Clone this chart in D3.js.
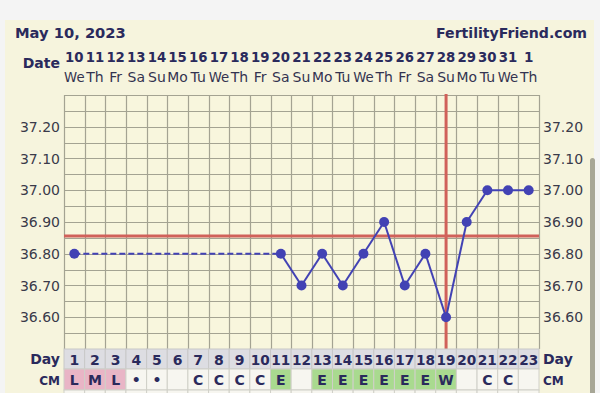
<!DOCTYPE html>
<html><head><meta charset="utf-8">
<script src="https://cdn.jsdelivr.net/npm/d3@7/dist/d3.min.js"></script>
<style>html,body{margin:0;padding:0;background:#f3f3f3;}svg{display:block;}</style>
</head><body>
<svg id="c" width="600" height="393"></svg>
<script>
const title = "May 10, 2023";
const site = "FertilityFriend.com";
const dates = ["10","11","12","13","14","15","16","17","18","19","20","21","22","23","24","25","26","27","28","29","30","31","1"];
const weekdays = ["We","Th","Fr","Sa","Su","Mo","Tu","We","Th","Fr","Sa","Su","Mo","Tu","We","Th","Fr","Sa","Su","Mo","Tu","We","Th"];
const days = d3.range(1, 24);
const temps = [36.80,null,null,null,null,null,null,null,null,null,36.80,36.70,36.80,36.70,36.80,36.90,36.70,36.80,36.60,36.90,37.00,37.00,37.00];
const cm = ["L","M","L","•","•","","C","C","C","C","E","","E","E","E","E","E","E","W","","C","C",""];
const yTicks = [36.60,36.70,36.80,36.90,37.00,37.10,37.20];
const coverline = 36.856;
const ovulationDay = 19;

const svg = d3.select("#c");
const navy = "#2a2a5c";
const cream = "#f6f4dd";
const gridCol = "#a4a392";
const red = "#d0615a";
const blue = "#4242b4";

function clampWidth(sel, maxW){
  sel.each(function(){
    const w = this.getComputedTextLength();
    if (w > maxW) { this.setAttribute("textLength", maxW); this.setAttribute("lengthAdjust","spacingAndGlyphs"); }
  });
}

// backgrounds
svg.append("rect").attr("x",0).attr("y",0).attr("width",600).attr("height",393).attr("fill","#f4f4f4");
svg.append("rect").attr("x",5).attr("y",20).attr("width",589).attr("height",373).attr("fill",cream);

const x = d3.scaleBand().domain(days).range([64, 539]);
const y = d3.scaleLinear().domain([36.5, 37.3]).range([349, 95]);
const cx = d => x(d) + x.bandwidth()/2;

// header
svg.append("text").attr("x",15).attr("y",38).attr("font-family","DejaVu Sans").attr("font-weight","bold")
  .attr("font-size",14.7).attr("fill",navy).text(title);
svg.append("text").attr("x",587).attr("y",38).attr("text-anchor","end").attr("font-family","DejaVu Sans").attr("font-weight","bold")
  .attr("font-size",14.1).attr("fill",navy).text(site);

// date header
svg.append("text").attr("x",60).attr("y",68).attr("text-anchor","end").attr("font-family","DejaVu Sans").attr("font-weight","bold")
  .attr("font-size",14).attr("fill",navy).text("Date");
clampWidth(svg.append("g").selectAll("text").data(days).join("text")
  .attr("x",d=>cx(d)).attr("y",62).attr("text-anchor","middle").attr("font-family","DejaVu Sans").attr("font-weight","bold")
  .attr("font-size",13.5).attr("fill",navy)
  .text((d,i)=>dates[i]), 18.5);
clampWidth(svg.append("g").selectAll("text").data(days).join("text")
  .attr("x",d=>cx(d)).attr("y",82).attr("text-anchor","middle").attr("font-family","DejaVu Sans")
  .attr("font-size",14).attr("fill","#333350")
  .text((d,i)=>weekdays[i]), 20.5);

// plot background
svg.append("rect").attr("x",64).attr("y",95).attr("width",475).attr("height",254).attr("fill","#f8f6dd");

// grid
const hLines = d3.range(0,17).map(i => 36.5 + i*0.05);
svg.append("g").selectAll("line").data(hLines).join("line")
  .attr("x1",64).attr("x2",539).attr("y1",d=>Math.round(y(d))+0.5).attr("y2",d=>Math.round(y(d))+0.5)
  .attr("stroke",gridCol).attr("stroke-width",1.2);
const vLines = days.map(d=>x(d)).concat([539]);
svg.append("g").selectAll("line").data(vLines).join("line")
  .attr("x1",d=>Math.round(d)+0.5).attr("x2",d=>Math.round(d)+0.5).attr("y1",95).attr("y2",349)
  .attr("stroke",gridCol).attr("stroke-width",1.2);

// axis labels
const lab = (xx, anchor) => svg.append("g").selectAll("text").data(yTicks).join("text")
  .attr("x",xx).attr("y",d=>y(d)+5).attr("text-anchor",anchor).attr("font-family","DejaVu Sans")
  .attr("font-size",14).attr("fill","#3a3a4a").text(d=>d.toFixed(2));
lab(60,"end"); lab(543,"start");

// coverline & ovulation line
svg.append("line").attr("x1",64).attr("x2",539).attr("y1",y(coverline)).attr("y2",y(coverline))
  .attr("stroke",red).attr("stroke-width",3);
svg.append("line").attr("x1",cx(ovulationDay)).attr("x2",cx(ovulationDay)).attr("y1",94).attr("y2",349)
  .attr("stroke",red).attr("stroke-width",3);

// data
const pts = days.map((d,i)=>({d, t: temps[i]})).filter(p=>p.t!==null);
for (let i=0;i<pts.length-1;i++){
  const a=pts[i], b=pts[i+1];
  const dashed = b.d - a.d > 1;
  svg.append("line").attr("x1",cx(a.d)).attr("y1",y(a.t)).attr("x2",cx(b.d)).attr("y2",y(b.t))
    .attr("stroke",blue).attr("stroke-width",2).attr("stroke-dasharray",dashed?"6,3":null);
}
svg.append("g").selectAll("circle").data(pts).join("circle")
  .attr("cx",p=>cx(p.d)).attr("cy",p=>y(p.t)).attr("r",5).attr("fill",blue);

// Day row
const rowTop = 349, rowH = 20;
svg.append("g").selectAll("rect").data(days).join("rect")
  .attr("x",d=>x(d)).attr("y",rowTop).attr("width",x.bandwidth()).attr("height",rowH)
  .attr("fill","#dddde2").attr("stroke","#c8c8c8").attr("stroke-width",1);
clampWidth(svg.append("g").selectAll("text").data(days).join("text")
  .attr("x",d=>cx(d)).attr("y",rowTop+16).attr("text-anchor","middle").attr("font-family","DejaVu Sans").attr("font-weight","bold")
  .attr("font-size",14).attr("fill",navy).text(d=>d), 19);
svg.append("text").attr("x",60).attr("y",rowTop+15).attr("text-anchor","end").attr("font-family","DejaVu Sans").attr("font-weight","bold")
  .attr("font-size",14).attr("fill",navy).text("Day");
svg.append("text").attr("x",543).attr("y",rowTop+15).attr("text-anchor","start").attr("font-family","DejaVu Sans").attr("font-weight","bold")
  .attr("font-size",14).attr("fill",navy).text("Day");

// CM row
const cmTop = rowTop + rowH, cmH = 21;
const cmFill = v => v==="L"||v==="M"?"#e9b5c6":(v==="E"||v==="W"?"#a9da8f":"#f7f6f0");
svg.append("g").selectAll("rect").data(days).join("rect")
  .attr("x",d=>x(d)).attr("y",cmTop).attr("width",x.bandwidth()).attr("height",cmH)
  .attr("fill",(d,i)=>cmFill(cm[i])).attr("stroke","#d0d0c8").attr("stroke-width",1);
svg.append("g").selectAll("text").data(days).join("text")
  .attr("x",d=>cx(d)).attr("y",cmTop+16).attr("text-anchor","middle").attr("font-family","DejaVu Sans").attr("font-weight","bold")
  .attr("font-size",14).attr("fill",navy).text((d,i)=>cm[i]);
svg.append("text").attr("x",60).attr("y",cmTop+16).attr("text-anchor","end").attr("font-family","DejaVu Sans").attr("font-weight","bold")
  .attr("font-size",12).attr("fill",navy).text("CM");
svg.append("text").attr("x",543).attr("y",cmTop+16).attr("text-anchor","start").attr("font-family","DejaVu Sans").attr("font-weight","bold")
  .attr("font-size",12).attr("fill",navy).text("CM");

// next row (partially visible)
svg.append("g").selectAll("rect").data(days).join("rect")
  .attr("x",d=>x(d)).attr("y",cmTop+cmH).attr("width",x.bandwidth()).attr("height",10)
  .attr("fill","#f7f6f0").attr("stroke","#d0d0c8").attr("stroke-width",1);

// scrollbar
svg.append("rect").attr("x",590).attr("y",158).attr("width",5).attr("height",240).attr("rx",2.5).attr("fill","#a7a696");
</script>
</body></html>
